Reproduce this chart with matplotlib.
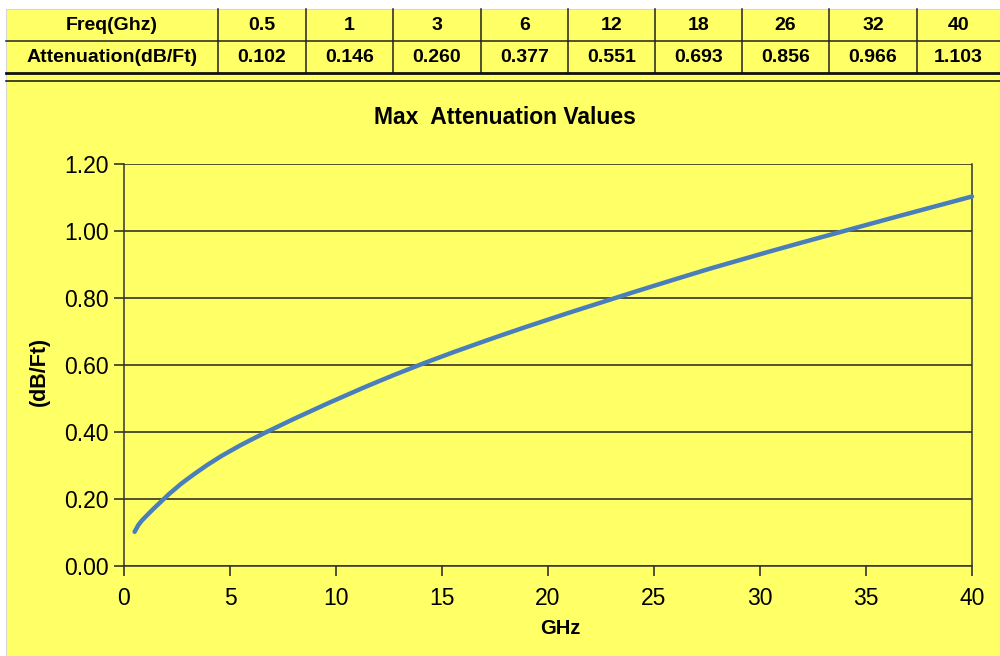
import matplotlib
matplotlib.use("Agg")
import matplotlib.pyplot as plt
from matplotlib.path import Path
from matplotlib.patches import PathPatch, Rectangle
from matplotlib.lines import Line2D

plt.rcParams['font.family'] = ['Liberation Sans', 'DejaVu Sans']

# ---- data ----
freq_ghz = [0.5, 1, 3, 6, 12, 18, 26, 32, 40]
attenuation = [0.102, 0.146, 0.260, 0.377, 0.551, 0.693, 0.856, 0.966, 1.103]
freq_labels = ["0.5", "1", "3", "6", "12", "18", "26", "32", "40"]
att_labels = ["0.102", "0.146", "0.260", "0.377", "0.551", "0.693", "0.856", "0.966", "1.103"]
y_ticks = [0.0, 0.2, 0.4, 0.6, 0.8, 1.0, 1.2]
x_ticks = [0, 5, 10, 15, 20, 25, 30, 35, 40]

W, H = 1000, 656
YELLOW = "#FFFF66"
BLUE = "#4A7EBB"

fig = plt.figure(figsize=(W / 100, H / 100), dpi=100)
fig.patch.set_facecolor("white")

def fx(px):
    return px / W

def fy(py):
    return 1 - py / H

# yellow background
bg = Rectangle((fx(6), 0), fx(W) - fx(6), fy(9), transform=fig.transFigure,
               facecolor=YELLOW, edgecolor="#D8D8D8", lw=0.8, zorder=-10)
fig.add_artist(bg)

# ---- table ----
col_edges = [6, 218, 306, 393, 481, 568, 655, 742, 829, 917, 1000]
row_top, row_mid, row_bot = 9, 41, 73
for xe in col_edges[1:-1]:
    fig.add_artist(Line2D([fx(xe), fx(xe)], [fy(row_top), fy(row_bot)], color="#222222", lw=1.1,
                          transform=fig.transFigure))
fig.add_artist(Line2D([fx(6), fx(W)], [fy(row_mid), fy(row_mid)], color="#222222", lw=1.1,
                      transform=fig.transFigure))
fig.add_artist(Line2D([fx(6), fx(W)], [fy(row_bot), fy(row_bot)], color="#111111", lw=2.0,
                      transform=fig.transFigure))
fig.add_artist(Line2D([fx(6), fx(W)], [fy(81), fy(81)], color="#111111", lw=1.1,
                      transform=fig.transFigure))

row1 = ["Freq(Ghz)"] + freq_labels
row2 = ["Attenuation(dB/Ft)"] + att_labels
for i in range(len(row1)):
    cx = (col_edges[i] + col_edges[i + 1]) / 2
    fig.text(fx(cx), fy((row_top + row_mid) / 2 + 1), row1[i], ha="center", va="center",
             fontsize=14, fontweight="bold", color="black")
    fig.text(fx(cx), fy((row_mid + row_bot) / 2 + 1), row2[i], ha="center", va="center",
             fontsize=14, fontweight="bold", color="black")

# ---- chart ----
ax = fig.add_axes([fx(124), fy(566), fx(972) - fx(124), fy(164) - fy(566)])
ax.set_facecolor(YELLOW)
ax.set_xlim(0, 40)
ax.set_ylim(0, 1.2)
ax.set_xticks(x_ticks)
ax.set_yticks(y_ticks)
ax.set_yticklabels([f"{v:.2f}" for v in y_ticks])
ax.tick_params(axis="both", labelsize=16.5, length=7, width=1.1, color="#222222", pad=4)
ax.tick_params(axis="x", pad=8)
ax.yaxis.grid(True, color="#222222", lw=1.1)
ax.set_axisbelow(True)
for s in ["left", "right", "bottom"]:
    ax.spines[s].set_color("#333333")
    ax.spines[s].set_linewidth(1.1)
ax.spines["top"].set_visible(False)

# smoothed line (Catmull-Rom style Bezier through the data points)
pts = list(zip(freq_ghz, attenuation))
verts = [pts[0]]
codes = [Path.MOVETO]
n = len(pts)
for i in range(n - 1):
    p0 = pts[i - 1] if i > 0 else pts[i]
    p1 = pts[i]
    p2 = pts[i + 1]
    p3 = pts[i + 2] if i + 2 < n else pts[i + 1]
    c1 = (p1[0] + (p2[0] - p0[0]) / 6, p1[1] + (p2[1] - p0[1]) / 6)
    c2 = (p2[0] - (p3[0] - p1[0]) / 6, p2[1] - (p3[1] - p1[1]) / 6)
    verts += [c1, c2, p2]
    codes += [Path.CURVE4] * 3
ax.add_patch(PathPatch(Path(verts, codes), facecolor="none", edgecolor=BLUE, lw=3.2,
                       capstyle="round", joinstyle="round", zorder=3, clip_on=False))

fig.text(fx(505), fy(117), "Max  Attenuation Values", ha="center", va="center",
         fontsize=16.5, fontweight="bold")
fig.text(fx(560), fy(629), "GHz", ha="center", va="center", fontsize=14.5, fontweight="bold")
fig.text(fx(39), fy(371), "(dB/Ft)", ha="center", va="center", rotation=90,
         fontsize=15.5, fontweight="bold")

fig.savefig("out.png", dpi=100, facecolor=fig.get_facecolor())
